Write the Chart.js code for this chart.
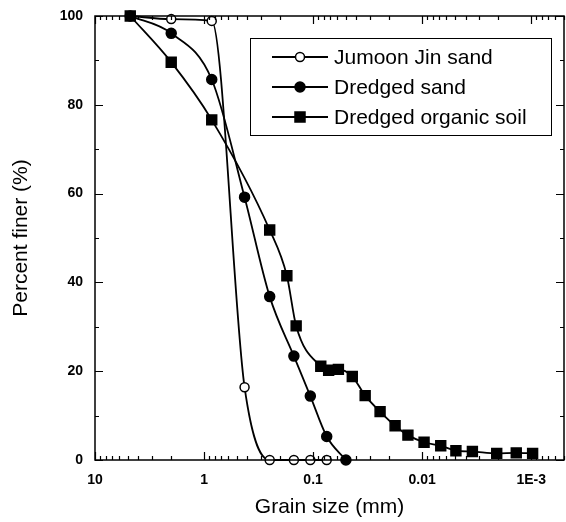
<!DOCTYPE html>
<html>
<head>
<meta charset="utf-8">
<script src="https://cdn.jsdelivr.net/npm/chart.js@4/dist/chart.umd.min.js"></script>
<style>
  html, body { margin: 0; padding: 0; background: #fff; overflow: hidden; }
  canvas { display: block; }
</style>
</head>
<body>
<canvas id="grading" width="566" height="522"></canvas>
<script>
// Grain size distribution
const seriesNames = ['Jumoon Jin sand', 'Dredged sand', 'Dredged organic soil'];

const jinSize = [4.75, 2.0, 0.85, 0.425, 0.25, 0.15, 0.106, 0.075];
const jinFiner = [100, 99.3, 98.9, 16.4, 0, 0, 0, 0];

const sandSize = [4.75, 2.0, 0.85, 0.425, 0.25, 0.15, 0.106, 0.075, 0.05];
const sandFiner = [100, 96.1, 85.7, 59.2, 36.8, 23.4, 14.4, 5.3, 0];

const organicSize = [4.75, 2.0, 0.85, 0.25, 0.174, 0.143, 0.085, 0.072, 0.0586, 0.0437,
    0.0333, 0.0243, 0.0177, 0.0135, 0.0096, 0.00675, 0.0049, 0.00346, 0.00207, 0.00137, 0.00097];
const organicFiner = [100, 89.6, 76.6, 51.8, 41.5, 30.2, 21.1, 20.2, 20.4, 18.8,
    14.5, 10.9, 7.7, 5.6, 4.0, 3.2, 2.1, 1.9, 1.5, 1.6, 1.5];

const xTicks = [10, 1, 0.1, 0.01, 0.001];
const xTickLabels = ['10', '1', '0.1', '0.01', '1E-3'];
const yTicks = [0, 20, 40, 60, 80, 100];

const FONT = "'Liberation Sans', Arial, Helvetica, sans-serif";

const toPoints = (xs, ys) => xs.map((x, i) => ({ x: x, y: ys[i] }));

// frame, inward tick marks and the boxed legend
const decorations = {
    id: 'decorations',
    afterDraw(chart) {
        const { ctx, chartArea: a, scales } = chart;
        const xs = scales.x, ys = scales.y;
        ctx.save();
        ctx.strokeStyle = '#000';
        ctx.lineWidth = 1.5;
        ctx.strokeRect(a.left, a.top, a.right - a.left, a.bottom - a.top);

        ctx.lineWidth = 1.2;
        ctx.beginPath();
        for (let k = -4; k <= 1; k++) {
            for (let m = 1; m <= 9; m++) {
                const v = m * Math.pow(10, k);
                if (v < xs.min || v > xs.max) continue;
                const px = Math.round(xs.getPixelForValue(v)) + 0.5;
                const len = m === 1 ? 8 : 4;
                ctx.moveTo(px, a.bottom); ctx.lineTo(px, a.bottom - len);
                ctx.moveTo(px, a.top); ctx.lineTo(px, a.top + len);
            }
        }
        for (let v = 0; v <= 100; v += 10) {
            const py = Math.round(ys.getPixelForValue(v)) + 0.5;
            const len = v % 20 === 0 ? 8 : 4;
            ctx.moveTo(a.left, py); ctx.lineTo(a.left + len, py);
            ctx.moveTo(a.right, py); ctx.lineTo(a.right - len, py);
        }
        ctx.stroke();

        // legend
        ctx.lineWidth = 1;
        ctx.fillStyle = '#fff';
        ctx.fillRect(250.5, 38.5, 301, 97);
        ctx.strokeRect(250.5, 38.5, 301, 97);
        const rows = [57, 87, 117];
        chart.data.datasets.forEach((ds, i) => {
            const y = rows[i];
            ctx.lineWidth = 1.8;
            ctx.strokeStyle = '#000';
            ctx.beginPath();
            ctx.moveTo(272, y); ctx.lineTo(328, y);
            ctx.stroke();
            ctx.fillStyle = ds.pointBackgroundColor;
            ctx.lineWidth = 1.5;
            ctx.beginPath();
            if (ds.pointStyle === 'rect') {
                ctx.rect(295, y - 5, 10, 10);
            } else {
                ctx.arc(300, y, ds.pointRadius, 0, Math.PI * 2);
            }
            ctx.fill();
            ctx.stroke();
            ctx.fillStyle = '#000';
            ctx.font = '21px ' + FONT;
            ctx.textBaseline = 'middle';
            ctx.textAlign = 'left';
            ctx.fillText(ds.label, 334, y + 1);
        });
        ctx.restore();
    }
};

const baseSet = {
    borderColor: '#000',
    borderWidth: 1.8,
    pointBorderColor: '#000',
    pointBorderWidth: 1.5,
    cubicInterpolationMode: 'monotone',
    clip: false,
    fill: false
};

new Chart(document.getElementById('grading'), {
    type: 'line',
    data: {
        datasets: [
            Object.assign({}, baseSet, {
                label: seriesNames[0],
                data: toPoints(jinSize, jinFiner),
                order: 1,
                pointStyle: 'circle',
                pointRadius: 4.5,
                pointBackgroundColor: '#fff'
            }),
            Object.assign({}, baseSet, {
                label: seriesNames[1],
                data: toPoints(sandSize, sandFiner),
                order: 0,
                pointStyle: 'circle',
                pointRadius: 5,
                pointBackgroundColor: '#000'
            }),
            Object.assign({}, baseSet, {
                label: seriesNames[2],
                data: toPoints(organicSize, organicFiner),
                order: 2,
                pointStyle: 'rect',
                pointRadius: 7,
                pointBackgroundColor: '#000'
            })
        ]
    },
    options: {
        responsive: false,
        animation: false,
        layout: { autoPadding: false, padding: { top: 16, right: 2, left: 0, bottom: 0 } },
        plugins: {
            legend: { display: false },
            tooltip: { enabled: false }
        },
        scales: {
            x: {
                type: 'logarithmic',
                reverse: true,
                min: 0.0005,
                max: 10,
                afterBuildTicks: (s) => { s.ticks = xTicks.map(v => ({ value: v })); },
                afterFit: (s) => {
                    s.height = 62;
                    s.paddingLeft = 0;
                    s.paddingRight = 0;
                },
                grid: { display: false },
                border: { display: false },
                ticks: {
                    autoSkip: false,
                    maxRotation: 0,
                    padding: 4,
                    color: '#000',
                    font: { family: FONT, size: 14, weight: 'bold' },
                    callback: (v) => {
                        const i = xTicks.findIndex(t => Math.abs(t - v) < t * 1e-6);
                        return i >= 0 ? xTickLabels[i] : '';
                    }
                },
                title: {
                    display: true,
                    text: 'Grain size (mm)',
                    color: '#000',
                    font: { family: FONT, size: 21 },
                    padding: { top: 0, bottom: 2 }
                }
            },
            y: {
                min: 0,
                max: 100,
                afterBuildTicks: (s) => { s.ticks = yTicks.map(v => ({ value: v })); },
                afterFit: (s) => {
                    s.width = 95;
                    s.paddingTop = 0;
                    s.paddingBottom = 0;
                },
                grid: { display: false },
                border: { display: false },
                ticks: {
                    padding: 4,
                    color: '#000',
                    font: { family: FONT, size: 14, weight: 'bold' }
                },
                title: {
                    display: true,
                    text: 'Percent finer (%)',
                    color: '#000',
                    font: { family: FONT, size: 21 },
                    padding: { top: 9, bottom: 0 }
                }
            }
        }
    },
    plugins: [decorations]
});
</script>
</body>
</html>
